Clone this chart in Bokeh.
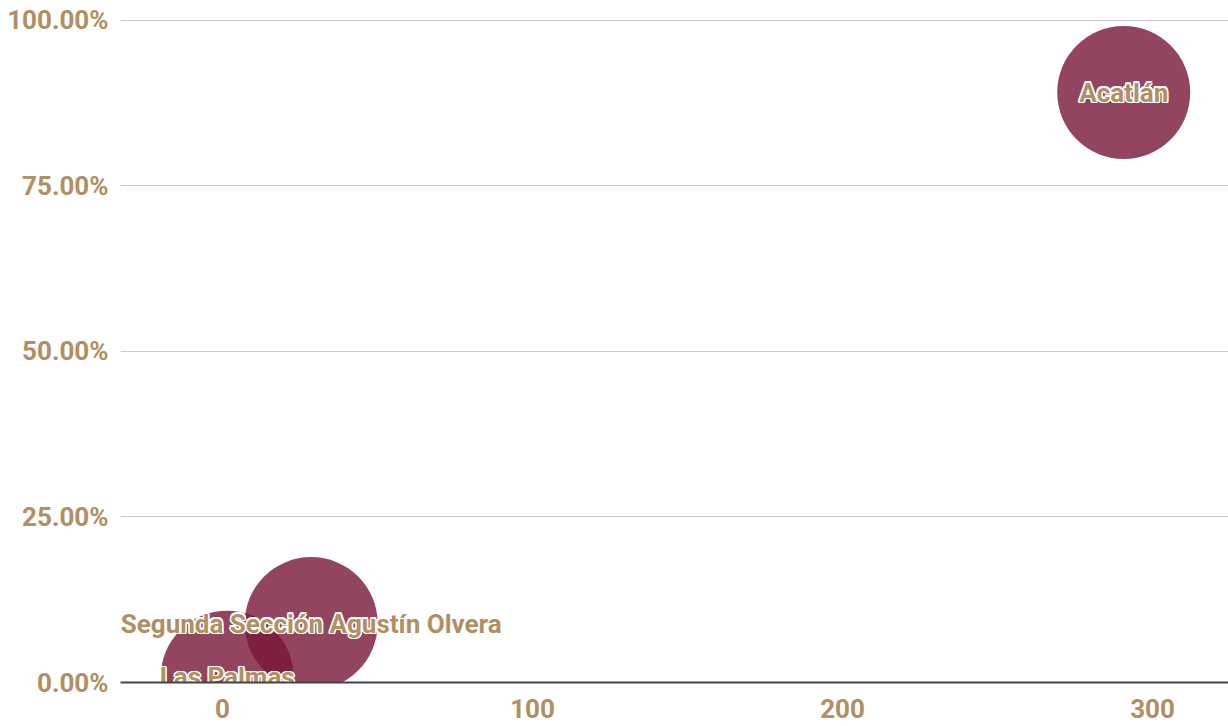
from bokeh.plotting import figure
from bokeh.models import ColumnDataSource, FixedTicker, NumeralTickFormatter, Range1d
from bokeh.core.properties import value
from bokeh.embed import file_html
from bokeh.resources import INLINE

# Data
names = ["Acatlán", "Segunda Sección Agustín Olvera", "Las Palmas"]
x_vals = [290.7, 28.6, 1.5]
y_vals = [0.891, 0.089, 0.008]
x_ticks = [0, 100, 200, 300]
y_ticks = [0.0, 0.25, 0.5, 0.75, 1.0]

TAN = "#B08F62"
BUBBLE = "#781638"

src = ColumnDataSource(dict(name=names, x=x_vals, y=y_vals))

p = figure(width=1228, height=726, output_backend="svg", toolbar_location=None,
           x_range=Range1d(-32.9, 324.5), y_range=Range1d(0, 1.030),
           min_border_left=120, min_border_right=0, min_border_top=0, min_border_bottom=44)
p.outline_line_color = None
p.background_fill_color = "white"

p.scatter("x", "y", source=src, size=133, fill_color=BUBBLE, fill_alpha=0.8, line_color=None)

# white halo under the labels
halo = [(-1.5, 0), (1.5, 0), (0, -1.5), (0, 1.5), (-1.1, -1.1), (1.1, 1.1), (-1.1, 1.1), (1.1, -1.1)]
for dx, dy in halo:
    p.text("x", "y", text="name", source=src, text_align="center", text_baseline="middle",
           text_color="white", text_font=value("Roboto"), text_font_size="26px",
           text_font_style="bold", x_offset=dx, y_offset=dy)
p.text("x", "y", text="name", source=src, text_align="center", text_baseline="middle",
       text_color=TAN, text_font=value("Roboto"), text_font_size="26px",
       text_font_style="bold")

p.xgrid.grid_line_color = None
p.ygrid.grid_line_color = "#cccccc"
p.ygrid.grid_line_width = 1
p.ygrid.ticker = FixedTicker(ticks=y_ticks)

p.xaxis.ticker = FixedTicker(ticks=x_ticks)
p.yaxis.ticker = FixedTicker(ticks=y_ticks)
p.yaxis.formatter = NumeralTickFormatter(format="0.00%")

for ax in (p.xaxis[0], p.yaxis[0]):
    ax.major_tick_line_color = None
    ax.minor_tick_line_color = None
    ax.major_tick_out = 0
    ax.major_tick_in = 0
    ax.major_label_text_color = TAN
    ax.major_label_text_font = "Roboto"
    ax.major_label_text_font_style = "bold"
    ax.major_label_text_font_size = "26px"

p.yaxis.axis_line_color = None
p.yaxis.major_label_standoff = 12
p.xaxis.axis_line_color = "#444444"
p.xaxis.axis_line_width = 2
p.xaxis.major_label_standoff = 16

open("out.html", "w").write(file_html(p, INLINE))
